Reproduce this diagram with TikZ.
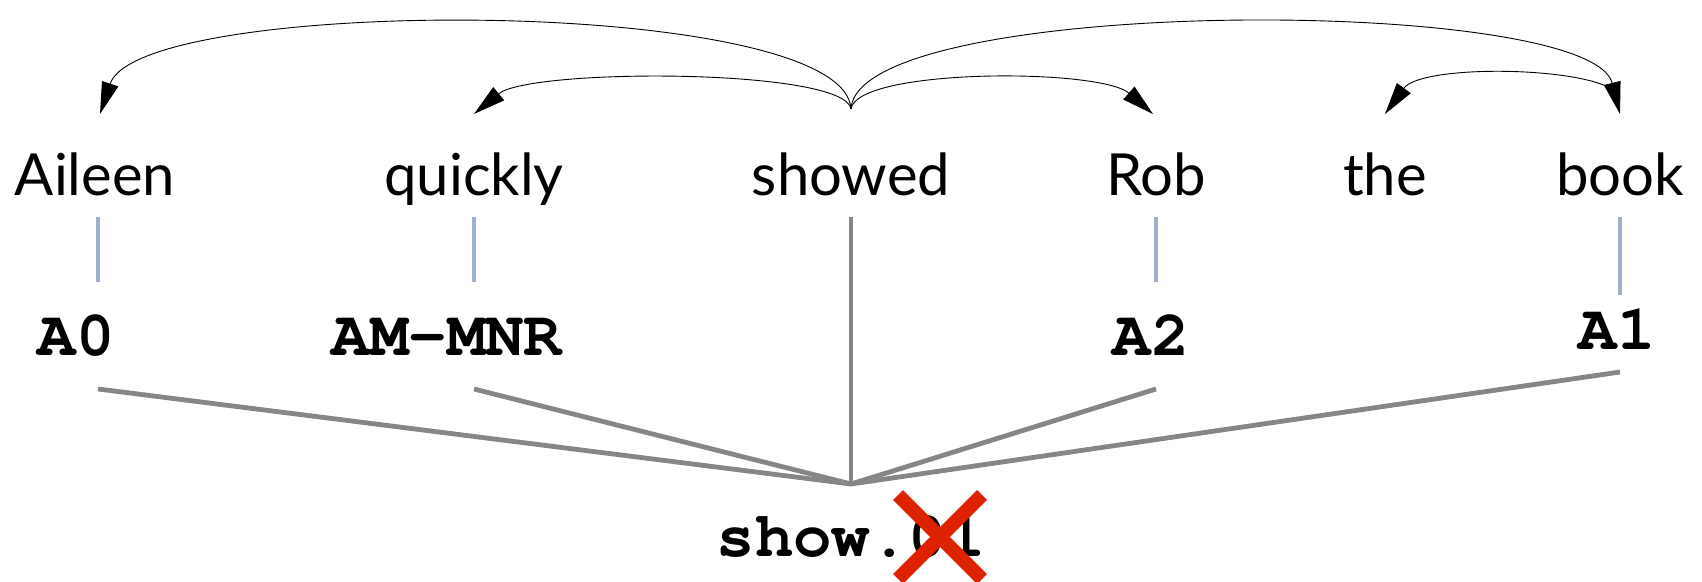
\documentclass[tikz,border=0pt]{standalone}
\usepackage[T1]{fontenc}
\usepackage{fontspec}
\setmainfont{Lato}
\newcommand\slabmono{\fontencoding{T1}\fontfamily{pcr}\fontseries{b}\selectfont}
\usetikzlibrary{arrows.meta}
\definecolor{tickblue}{HTML}{9DB0CC}
\definecolor{linkgray}{HTML}{868686}
\definecolor{crossred}{HTML}{DD2200}
\tikzset{
  word/.style={anchor=base, inner sep=0pt, font=\fontsize{58}{60}\selectfont},
  role/.style={anchor=base, inner sep=0pt, font=\slabmono\fontsize{64}{66}\selectfont},
  tick/.style={draw=tickblue, line width=4pt},
  link/.style={draw=linkgray, line width=4.8pt},
  dep/.style={draw=black, line width=0.9pt, -{Triangle[length=32pt,width=17pt]}},
}
\begin{document}
\begin{tikzpicture}[x=1pt,y=-1pt]
\useasboundingbox (0,0) rectangle (1702,581);

% sentence
\node[word] (aileen)  at (95,195)   {Aileen};
\node[word] (quickly) at (474,195)  {quickly};
\node[word] (showed)  at (851,195)  {showed};
\node[word] (rob)     at (1156,195) {Rob};
\node[word] (the)     at (1385,195) {the};
\node[word] (book)    at (1620,195) {book};

% dependency arcs
\coordinate (root)  at (851,109);
\coordinate (tA)    at (100,114);
\coordinate (tQ)    at (474,114);
\coordinate (tR)    at (1153,114);
\coordinate (tB)    at (1620,114);
\coordinate (tT)    at (1385,114);
\coordinate (bB)    at (1606,86);
\draw[dep] (root) .. controls (845,-5) and (140,-5) .. (tA);
\draw[dep] (root) .. controls (845,68) and (530,68) .. (tQ);
\draw[dep] (root) .. controls (857,68) and (1100,68) .. (tR);
\draw[dep] (root) .. controls (857,-5) and (1590,-5) .. (tB);
\draw[dep] (bB) .. controls (1560,66) and (1420,66) .. (tT);

% argument labels
\node[role] (a0)  at (76,355)   {A0};
\node[role] (mnr) at (447,355)  {AM-MNR};
\node[role] (a2)  at (1151,355) {A2};
\node[role] (a1)  at (1617,349) {A1};

% word-to-label ticks
\coordinate (wA) at (98,217);   \coordinate (lA) at (98,282);
\coordinate (wQ) at (474,217);  \coordinate (lQ) at (474,282);
\coordinate (wR) at (1156,217); \coordinate (lR) at (1156,282);
\coordinate (wB) at (1620,217); \coordinate (lB) at (1620,295);
\draw[tick] (wA) -- (lA);
\draw[tick] (wQ) -- (lQ);
\draw[tick] (wR) -- (lR);
\draw[tick] (wB) -- (lB);

% predicate frame
\node[role] (frame) at (851,556) {show.01};
\coordinate (hub) at (851,484);
\coordinate (sA) at (98,389);
\coordinate (sQ) at (474,389);
\coordinate (sR) at (1156,389);
\coordinate (sB) at (1620,372);
\coordinate (sS) at (851,217);
\draw[link] (sA) -- (hub);
\draw[link] (sQ) -- (hub);
\draw[link] (sR) -- (hub);
\draw[link] (sB) -- (hub);
\draw[link] (sS) -- (hub);

% struck-out sense number
\coordinate (xc) at (940,537);
\draw[crossred, line width=14pt] ([shift={(-42,-42)}]xc) -- ([shift={(42,42)}]xc);
\draw[crossred, line width=14pt] ([shift={(42,-42)}]xc) -- ([shift={(-42,42)}]xc);
\end{tikzpicture}
\end{document}
